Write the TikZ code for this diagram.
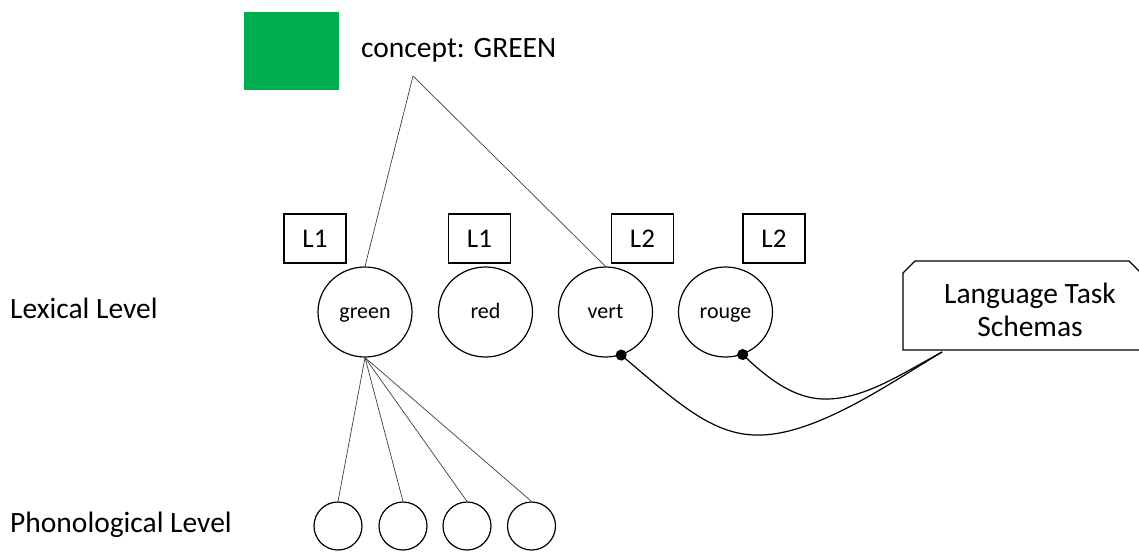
\documentclass[tikz,border=0pt]{standalone}
\usepackage{fontspec}
\setmainfont{Carlito}
\usetikzlibrary{shapes.geometric,arrows.meta}
\definecolor{officegreen}{RGB}{0,176,80}
\begin{document}
\begin{tikzpicture}[x=1pt,y=-1pt,
  big/.style={font=\fontsize{29.5}{33}\selectfont},
  word/.style={draw,ellipse,line width=1.2pt,minimum width=94pt,minimum height=90pt,inner sep=0pt,text height=1.45em,text depth=0.22em,font=\fontsize{22}{26}\selectfont},
  langbox/.style={draw,line width=1.2pt,minimum width=62pt,minimum height=49pt,inner sep=0pt,font=\fontsize{27}{30}\selectfont},
  phon/.style={draw,circle,line width=1.2pt,minimum size=48pt,inner sep=0pt},
  thin/.style={draw=black!75,line width=0.7pt},
  ctl/.style={line width=1.2pt,{Circle[length=11pt,width=11pt]}-,shorten <=-5.5pt}
]
\useasboundingbox (0,0) rectangle (1139,552);
% concept
\node[fill=officegreen,minimum width=95pt,minimum height=78pt,inner sep=0pt] (sq) at (291.5,51) {};
\node[big,anchor=west,inner sep=0pt] (concept) at (361,50) {concept: GREEN};
\coordinate (cpt) at (413,76);
% language tags
\node[langbox] (t1) at (315,238.5) {L1};
\node[langbox] (t2) at (479.5,238.5) {L1};
\node[langbox] (t3) at (642.5,238.5) {L2};
\node[langbox] (t4) at (774,238.5) {L2};
% lexical nodes
\node[word] (green) at (365,312) {green};
\node[word] (red) at (485.5,312) {red};
\node[word] (vert) at (605.5,312) {vert};
\node[word] (rouge) at (725.5,312) {rouge};
% level labels
\node[big,anchor=west,inner sep=0pt] (lex) at (10,308) {Lexical Level};
\node[big,anchor=west,inner sep=0pt] (pho) at (10,525) {Phonological Level};
% phonological nodes
\node[phon] (p1) at (338,526) {};
\node[phon] (p2) at (403,526) {};
\node[phon] (p3) at (467,526) {};
\node[phon] (p4) at (531.5,526) {};
% concept links
\draw[thin] (cpt) -- (green.north);
\draw[thin] (cpt) -- (vert.north);
% phon links
\draw[thin] (green.south) -- (p1.north);
\draw[thin] (green.south) -- (p2.north);
\draw[thin] (green.south) -- (p3.north);
\draw[thin] (green.south) -- (p4.north);
% schema box
\draw[line width=1.2pt] (1141,273) -- (1129,261) -- (915,261) -- (903,273) -- (903,350) -- (1141,350);
\node[big,align=center,inner sep=0pt] (schema) at (1030,310) {Language Task\\Schemas};
\coordinate (port) at (942,352);
% control links
\draw[ctl] (vert.-70) .. controls (680,405) and (715,437) .. (762,435) .. controls (820,433) and (895,380) .. (port);
\draw[ctl] (rouge.-68) .. controls (775,385) and (800,400) .. (828,399) .. controls (865,398) and (900,375) .. (port);
\end{tikzpicture}
\end{document}
